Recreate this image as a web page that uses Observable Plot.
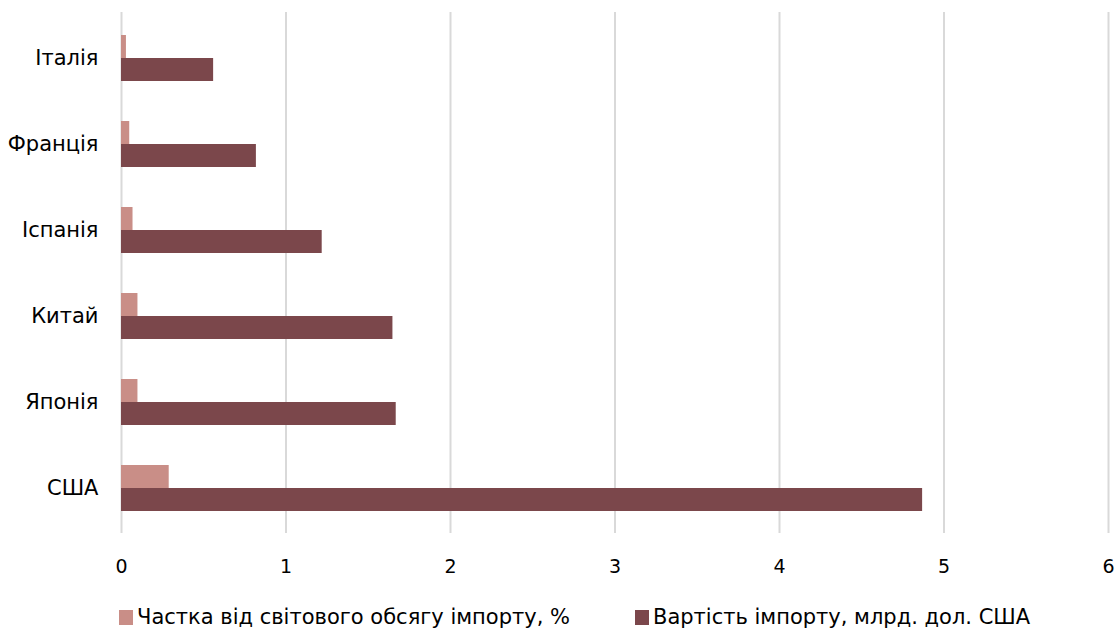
<!DOCTYPE html>
<html>
<head>
<meta charset="utf-8">
<script src="https://cdn.jsdelivr.net/npm/d3@7"></script>
<script src="https://cdn.jsdelivr.net/npm/@observablehq/plot@0.6"></script>
<style>
  html, body { margin: 0; padding: 0; background: #fff; }
  body { width: 1119px; height: 630px; overflow: hidden; position: relative; font-family: Tahoma, "DejaVu Sans", sans-serif; }
  #chart svg g[aria-label="x-axis tick label"] { font-size: 19px; }
  #chart svg g[aria-label="y-axis tick label"] { font-size: 21px; }
  #legend { position: absolute; top: 606px; left: 0; width: 1119px; height: 22px; font-size: 21px; color: #000; }
  .item { position: absolute; display: flex; align-items: center; white-space: nowrap; line-height: 22px; height: 22px; }
  .sw { width: 14px; height: 15px; margin-right: 4px; display: inline-block; }
</style>
</head>
<body>
<div id="chart"></div>
<div id="legend"></div>
<script>
const countries = ["Італія", "Франція", "Іспанія", "Китай", "Японія", "США"];
const shareValues = [0.03, 0.05, 0.07, 0.10, 0.10, 0.29];
const importValues = [0.56, 0.82, 1.22, 1.65, 1.67, 4.87];
const seriesNames = ["Частка від світового обсягу імпорту, %", "Вартість імпорту, млрд. дол. США"];
const seriesColors = ["#C98E87", "#7B474B"];
const xTicks = [0, 1, 2, 3, 4, 5, 6];

const shareData = countries.map((c, i) => ({country: c, v: shareValues[i]}));
const importData = countries.map((c, i) => ({country: c, v: importValues[i]}));

const chart = Plot.plot({
  width: 1119,
  height: 578,
  marginLeft: 121,
  marginRight: 11,
  marginTop: 12,
  marginBottom: 45,
  style: {fontFamily: 'Tahoma, "DejaVu Sans", sans-serif', fontSize: "19px", color: "#000", background: "#fff"},
  x: {domain: [0, 6], ticks: xTicks, label: null},
  y: {domain: countries, paddingInner: 0.47, paddingOuter: 0.235, label: null},
  marks: [
    Plot.ruleX(xTicks, {stroke: "#d9d9d9", strokeWidth: 2}),
    Plot.barX(shareData, {x: "v", y: "country", fill: seriesColors[0], insetBottom: 23}),
    Plot.barX(importData, {x: "v", y: "country", fill: seriesColors[1], insetTop: 23}),
    Plot.axisX({ticks: xTicks, tickSize: 0, tickPadding: 26, fontSize: 19, label: null, tickFormat: d => String(d)}),
    Plot.axisY({tickSize: 0, tickPadding: 23, fontSize: 21, label: null})
  ]
});
document.getElementById("chart").appendChild(chart);

const legend = document.getElementById("legend");
const lefts = [119, 635];
seriesNames.forEach((n, i) => {
  const it = document.createElement("div");
  it.className = "item";
  it.style.left = lefts[i] + "px";
  it.style.top = "0px";
  it.innerHTML = `<span class="sw" style="background:${seriesColors[i]}"></span><span>${n}</span>`;
  legend.appendChild(it);
});
</script>
</body>
</html>
